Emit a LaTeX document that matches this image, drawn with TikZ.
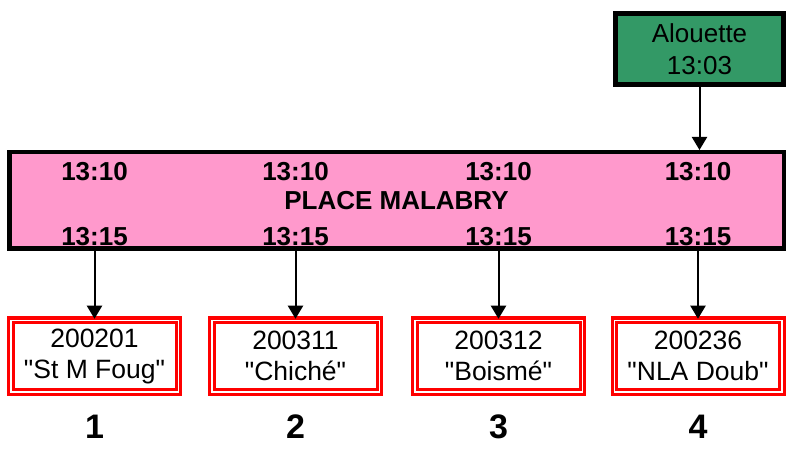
\documentclass[tikz,border=0pt]{standalone}
\usepackage{fontspec}
\setmainfont{Liberation Sans}[Ligatures=TeXOff]
\usepackage{xcolor}
\usepackage{tikz}
\usetikzlibrary{arrows.meta,calc,positioning}
\definecolor{TripGreen}{HTML}{339966}
\definecolor{StopPink}{HTML}{FF99CC}
\definecolor{VehicleRed}{HTML}{FF0000}

\tikzset{
    tripbox/.style={draw=black, line width=5pt, fill=TripGreen, align=center,
        minimum width=168pt, minimum height=71pt, inner sep=0pt,
        font=\fontsize{26}{32}\selectfont},
    stopbar/.style={draw=black, line width=4.5pt, fill=StopPink,
        minimum width=774.5pt, minimum height=96.5pt, inner sep=0pt},
    timelabel/.style={font=\fontsize{26}{30}\bfseries\selectfont, inner sep=0pt},
    vehbox/.style={draw=VehicleRed, double=white, double distance=1.5pt, line width=3pt,
        align=center, minimum width=167.5pt, minimum height=71.5pt, inner sep=0pt,
        font=\fontsize{26.5}{31}\selectfont},
    ranklabel/.style={font=\fontsize{34}{40}\bfseries\selectfont, inner sep=0pt},
    feed/.style={line width=2pt, -{Triangle[width=15pt,length=13pt]}}
}

\begin{document}
\begin{tikzpicture}[x=1pt,y=-1pt]
        \useasboundingbox (0,0) rectangle (787,454);

        % incoming trip
        \node[tripbox] (trip) at (699.5,49) {Alouette\\13:03};

        % stop bar
        \node[stopbar] (stop) at (396.5,200.5) {};
        \node[timelabel] (place) at (396.5,201) {PLACE MALABRY};

        \foreach \i/\x/\code/\nm in {1/94.5/200201/St M Foug, 2/295.5/200311/Chiché, 3/498.5/200312/Boismé, 4/698/200236/NLA Doub} {
            \node[timelabel] (arr\i) at (\x,172) {13:10};
            \node[timelabel] (dep\i) at (\x,237) {13:15};
            \node[vehbox] (veh\i) at (\x,356) {\code\\"\nm"};
            \node[ranklabel] (rank\i) at (\x,427) {\i};
            \draw[feed] (stop.south -| veh\i.north) -- (veh\i.north);
        }

        \draw[feed] (trip.south) -- (trip.south |- stop.north);
    \end{tikzpicture}
\end{document}
